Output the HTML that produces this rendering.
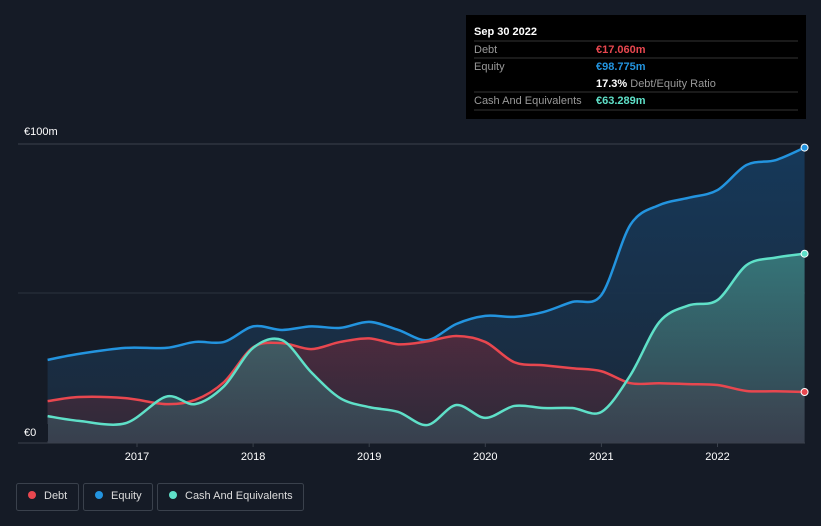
<!DOCTYPE html>
<html><head><meta charset="utf-8"><style>
body{margin:0;background:#151b26;font-family:"Liberation Sans",sans-serif;}
svg{display:block}
</style></head><body>
<svg width="821" height="526" id="c">
<defs>
<linearGradient id="ge" x1="0" y1="0" x2="0" y2="1"><stop offset="0" stop-color="#163a5c" stop-opacity="0.95"/><stop offset="1" stop-color="#1b2a3c" stop-opacity="0.9"/></linearGradient>
<linearGradient id="gc" x1="0" y1="0" x2="0" y2="1"><stop offset="0" stop-color="#3f8a86" stop-opacity="0.75"/><stop offset="1" stop-color="#3a4452" stop-opacity="0.8"/></linearGradient>
<linearGradient id="gd" x1="0" y1="0" x2="0" y2="1"><stop offset="0" stop-color="#5a2a3c" stop-opacity="0.8"/><stop offset="1" stop-color="#3a2a38" stop-opacity="0.6"/></linearGradient>
</defs>
<line x1="18" y1="144" x2="805" y2="144" stroke="#3a414c"/>
<line x1="18" y1="293" x2="805" y2="293" stroke="#2c333e"/>
<text x="24" y="135" fill="#ffffff" font-size="11">€100m</text>
<g id="plot"></g>
<line x1="18" y1="443" x2="805" y2="443" stroke="#3a414c"/>
<rect x="16" y="424" width="32" height="17" fill="#151b26"/>
<text x="24" y="436" fill="#ffffff" font-size="11">€0</text>
<g id="xt"></g>
<g>
<rect x="466" y="15" width="340" height="104" fill="#000"/>
<text x="474" y="35" fill="#fff" font-size="11" font-weight="bold">Sep 30 2022</text>
<line x1="474" y1="41" x2="798" y2="41" stroke="#333"/>
<text x="474" y="53" fill="#999" font-size="11">Debt</text>
<text x="596" y="53" fill="#e8474f" font-size="11" font-weight="bold">€17.060m</text>
<line x1="474" y1="58" x2="798" y2="58" stroke="#333"/>
<text x="474" y="70" fill="#999" font-size="11">Equity</text>
<text x="596" y="70" fill="#2394df" font-size="11" font-weight="bold">€98.775m</text>
<text x="596" y="87" fill="#fff" font-size="11" font-weight="bold">17.3% <tspan fill="#999" font-weight="normal">Debt/Equity Ratio</tspan></text>
<line x1="474" y1="92" x2="798" y2="92" stroke="#333"/>
<text x="474" y="104" fill="#999" font-size="11">Cash And Equivalents</text>
<text x="596" y="104" fill="#5fe0c8" font-size="11" font-weight="bold">€63.289m</text>
<line x1="474" y1="110" x2="798" y2="110" stroke="#333"/>
</g>
<g>
<g><rect x="16.5" y="483.5" width="62" height="27" rx="2" fill="none" stroke="#3a414c"/><circle cx="32" cy="495" r="4" fill="#e8474f"/><text x="44" y="499" fill="#ddd" font-size="11">Debt</text></g>
<g><rect x="83.5" y="483.5" width="69" height="27" rx="2" fill="none" stroke="#3a414c"/><circle cx="99" cy="495" r="4" fill="#2394df"/><text x="111" y="499" fill="#ddd" font-size="11">Equity</text></g>
<g><rect x="157.5" y="483.5" width="146" height="27" rx="2" fill="none" stroke="#3a414c"/><circle cx="173" cy="495" r="4" fill="#5fe0c8"/><text x="185" y="499" fill="#ddd" font-size="11">Cash And Equivalents</text></g>
</g>
</svg>
<script>
const dates=[2016.23,2016.5,2016.9,2017.25,2017.5,2017.75,2018.0,2018.25,2018.5,2018.75,2019.0,2019.25,2019.5,2019.75,2020.0,2020.25,2020.5,2020.75,2021.0,2021.25,2021.5,2021.75,2022.0,2022.25,2022.5,2022.75];
const equity=[27.8,29.8,31.8,31.8,33.8,33.8,39,37.8,39,38.5,40.5,37.8,34.4,39.8,42.5,42.2,43.8,47.2,49.5,73,79.6,82,84.6,93,94.6,98.8];
const debt=[14,15.4,15,13,14.4,20.4,32,33.4,31.4,33.8,35,33,34,35.8,33.8,27,26,25,24,20,20,19.7,19.4,17.4,17.3,17.06];
const cash=[9,7.4,6.6,15.5,13,19,31.8,34.4,23.7,15,12,10.4,6,12.7,8.4,12.4,11.7,11.7,10.4,22.7,40.5,46,47.8,59.5,62,63.3];
const years=[2017,2018,2019,2020,2021,2022];
const X=d=>137+(d-2017)*116.1, Y=v=>443-v*2.99;
const NS='http://www.w3.org/2000/svg';
function path(vals){const p=dates.map((d,i)=>[X(d),Y(vals[i])]);let s='M'+p[0][0]+','+p[0][1];
for(let i=0;i<p.length-1;i++){const a=p[Math.max(i-1,0)],b=p[i],c=p[i+1],e=p[Math.min(i+2,p.length-1)];const t=0.16;
s+=' C'+(b[0]+(c[0]-a[0])*t)+','+(b[1]+(c[1]-a[1])*t)+' '+(c[0]-(e[0]-b[0])*t)+','+(c[1]-(e[1]-b[1])*t)+' '+c[0]+','+c[1];}return s;}
const g=document.getElementById('plot');
function add(vals,fill,col,name){
const a=document.createElementNS(NS,'path');a.setAttribute('d',path(vals)+' L'+X(dates[dates.length-1])+',443 L'+X(dates[0])+',443 Z');a.setAttribute('fill',fill);


g.appendChild(a);return ()=>{
const l=document.createElementNS(NS,'path');l.setAttribute('d',path(vals));l.setAttribute('fill','none');l.setAttribute('stroke',col);l.setAttribute('stroke-width','2.5');


g.appendChild(l);
const c=document.createElementNS(NS,'circle');c.setAttribute('cx',X(dates[dates.length-1]));c.setAttribute('cy',Y(vals[vals.length-1]));c.setAttribute('r',3.5);c.setAttribute('fill',col);c.setAttribute('stroke','#fff');c.setAttribute('stroke-width','1');


g.appendChild(c);};}
const l1=add(equity,'url(#ge)','#2394df','equity');
const l2=add(debt,'url(#gd)','#e8474f','debt');
const l3=add(cash,'url(#gc)','#5fe0c8','cash');
l1();l2();l3();
const xt=document.getElementById('xt');
years.forEach(y=>{const t=document.createElementNS(NS,'text');t.setAttribute('x',X(y));t.setAttribute('y',460);t.setAttribute('fill','#fff');t.setAttribute('font-size','11');t.setAttribute('text-anchor','middle');t.textContent=y;


xt.appendChild(t);
const k=document.createElementNS(NS,'line');k.setAttribute('x1',X(y));k.setAttribute('x2',X(y));k.setAttribute('y1',443);k.setAttribute('y2',447);k.setAttribute('stroke','#3a414c');xt.appendChild(k);});
</script>
</body></html>
